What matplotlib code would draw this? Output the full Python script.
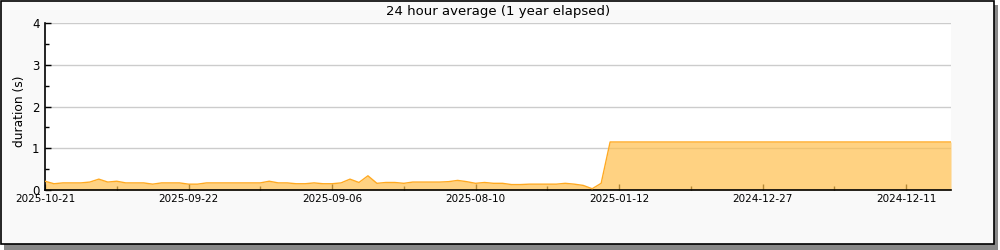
import matplotlib
matplotlib.use("Agg")
import matplotlib.pyplot as plt
from matplotlib.patches import Rectangle
from matplotlib.ticker import MultipleLocator

# 24 hour average duration (s), one point per sample, left to right
durations = [
    0.21, 0.15, 0.17, 0.17, 0.17, 0.19, 0.26, 0.19, 0.21, 0.17,
    0.17, 0.17, 0.14, 0.17, 0.17, 0.17, 0.14, 0.14, 0.17, 0.17,
    0.17, 0.17, 0.17, 0.17, 0.17, 0.21, 0.17, 0.17, 0.15, 0.15,
    0.17, 0.15, 0.15, 0.17, 0.26, 0.18, 0.34, 0.16, 0.18, 0.18,
    0.16, 0.19, 0.19, 0.19, 0.19, 0.20, 0.23, 0.20, 0.16, 0.18,
    0.16, 0.16, 0.13, 0.13, 0.14, 0.14, 0.14, 0.14, 0.16, 0.14,
    0.11, 0.03, 0.16, 1.15, 1.15, 1.15, 1.15, 1.15, 1.15, 1.15,
    1.15, 1.15, 1.15, 1.15, 1.15, 1.15, 1.15, 1.15, 1.15, 1.15,
    1.15, 1.15, 1.15, 1.15, 1.15, 1.15, 1.15, 1.15, 1.15, 1.15,
    1.15, 1.15, 1.15, 1.15, 1.15, 1.15, 1.15, 1.15, 1.15, 1.15,
    1.15, 1.15,
]
tick_labels = ["2025-10-21", "2025-09-22", "2025-09-06", "2025-08-10",
               "2025-01-12", "2024-12-27", "2024-12-11"]
tick_step = 16

fig = plt.figure(figsize=(10, 2.5), dpi=100)
fig.patch.set_facecolor("white")

# framed panel with a drop shadow
fig.patches.append(Rectangle((4 / 1000, 0), 994 / 1000, 245 / 250, transform=fig.transFigure,
                             facecolor="#888888", edgecolor="none", zorder=0))
fig.patches.append(Rectangle((0.5 / 1000, 6 / 250), 993 / 1000, 243.5 / 250, transform=fig.transFigure,
                             facecolor="#f9f9f9", edgecolor="black", linewidth=1.2, zorder=1))

ax = fig.add_axes([45 / 1000, 60 / 250, 906 / 1000, 167 / 250])
ax.set_zorder(5)
ax.set_facecolor("white")

x = list(range(len(durations)))
ax.yaxis.grid(True, color="#cccccc", linewidth=1, zorder=1)
ax.set_axisbelow(True)
ax.fill_between(x, durations, 0, color="#ffc04d", alpha=0.7, linewidth=0, zorder=2)
ax.plot(x, durations, color="#ffaa22", linewidth=1, zorder=3)

ax.set_xlim(0, len(durations) - 1)
ax.set_ylim(0, 4)
ax.set_xticks([i * tick_step for i in range(len(tick_labels))])
ax.set_xticklabels(tick_labels)
ax.xaxis.set_minor_locator(MultipleLocator(tick_step / 2))
ax.yaxis.set_major_locator(MultipleLocator(1))
ax.yaxis.set_minor_locator(MultipleLocator(0.5))
ax.tick_params(which="major", direction="in", length=4, width=1, labelsize=7.5, pad=3)
ax.tick_params(axis="y", which="major", labelsize=8.5, pad=4)
ax.tick_params(which="minor", direction="in", length=3, width=1)

for s in ["top", "right"]:
    ax.spines[s].set_visible(False)
for s in ["left", "bottom"]:
    ax.spines[s].set_linewidth(1.2)

ax.set_ylabel("duration (s)", fontsize=8.8)
ax.yaxis.set_label_coords(-0.021, 0.473)
fig.text(0.498, 1 - 12 / 250, "24 hour average (1 year elapsed)", ha="center", va="center",
         fontsize=9.5, zorder=6)

fig.savefig("out.png", dpi=100)
